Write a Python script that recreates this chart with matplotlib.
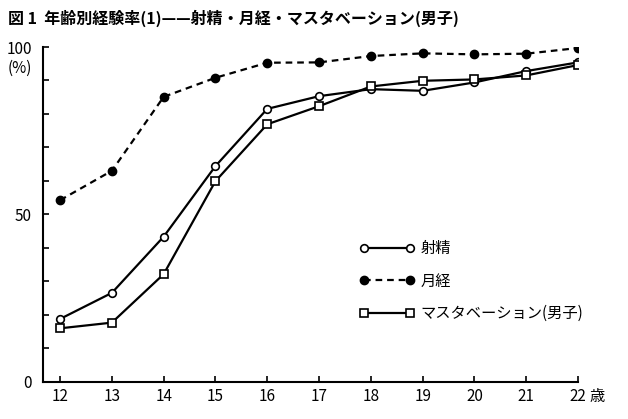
import matplotlib
matplotlib.use("Agg")
import matplotlib.pyplot as plt

plt.rcParams['font.family'] = ['Noto Sans CJK JP', 'DejaVu Sans']

ages = [12, 13, 14, 15, 16, 17, 18, 19, 20, 21, 22]
shasei = [18.7, 26.5, 43.3, 64.4, 81.5, 85.3, 87.4, 86.9, 89.4, 92.8, 95.4]
gekkei = [54.2, 63.0, 85.1, 90.8, 95.3, 95.4, 97.3, 98.1, 97.8, 98.0, 99.7]
masturbation = [15.9, 17.6, 32.1, 59.9, 76.9, 82.3, 88.2, 89.9, 90.3, 91.5, 94.6]
labels = ['射精', '月経', 'マスタベーション(男子)']
title = '図 1  年齢別経験率(1)——射精・月経・マスタベーション(男子)'

fig = plt.figure(figsize=(6.28, 4.19), dpi=100)
ax = fig.add_axes([43 / 628, 1 - 381.5 / 419, (578 - 43) / 628, (381.5 - 47) / 419])

ax.plot(ages, shasei, color='black', lw=1.6, marker='o', ms=5.5,
        mfc='white', mec='black', mew=1.2, label=labels[0])
ax.plot(ages, gekkei, color='black', lw=1.6, ls=(0, (3, 2.2)), marker='o', ms=6,
        mfc='black', mec='black', label=labels[1])
ax.plot(ages, masturbation, color='black', lw=1.6, marker='s', ms=5.5,
        mfc='white', mec='black', mew=1.2, label=labels[2])

ax.set_xlim(11.67, 22)
ax.set_ylim(0, 100)
ax.spines['top'].set_visible(False)
ax.spines['right'].set_visible(False)
ax.spines['left'].set_linewidth(1.5)
ax.spines['bottom'].set_linewidth(1.5)

ax.set_xticks(ages)
ax.set_xticklabels([str(a) for a in ages], fontsize=11)
ax.set_yticks(range(0, 101, 10))
ax.set_yticklabels(['0', '', '', '', '', '50', '', '', '', '', '100'], fontsize=11)
ax.tick_params(axis='both', direction='in', length=4, width=1.2, pad=5)
ax.tick_params(axis='y', pad=8)

ax.annotate('歳', xy=(22, 0), xytext=(8, -5), textcoords='offset points',
            fontsize=11, ha='left', va='top', annotation_clip=False)
ax.text(-0.02, 93.5, '(%)', fontsize=11, ha='right', va='center',
        transform=ax.get_yaxis_transform(), clip_on=False)

ax.legend(loc='upper left', bbox_to_anchor=(0.58, 0.44), frameon=False,
          numpoints=2, handlelength=3.6, fontsize=11, labelspacing=1.0,
          handletextpad=0.4, borderaxespad=0)

fig.text(8 / 628, 1 - 18 / 419, title, fontsize=11.5, fontweight='bold',
         ha='left', va='center')

fig.savefig('out.png', dpi=100)
